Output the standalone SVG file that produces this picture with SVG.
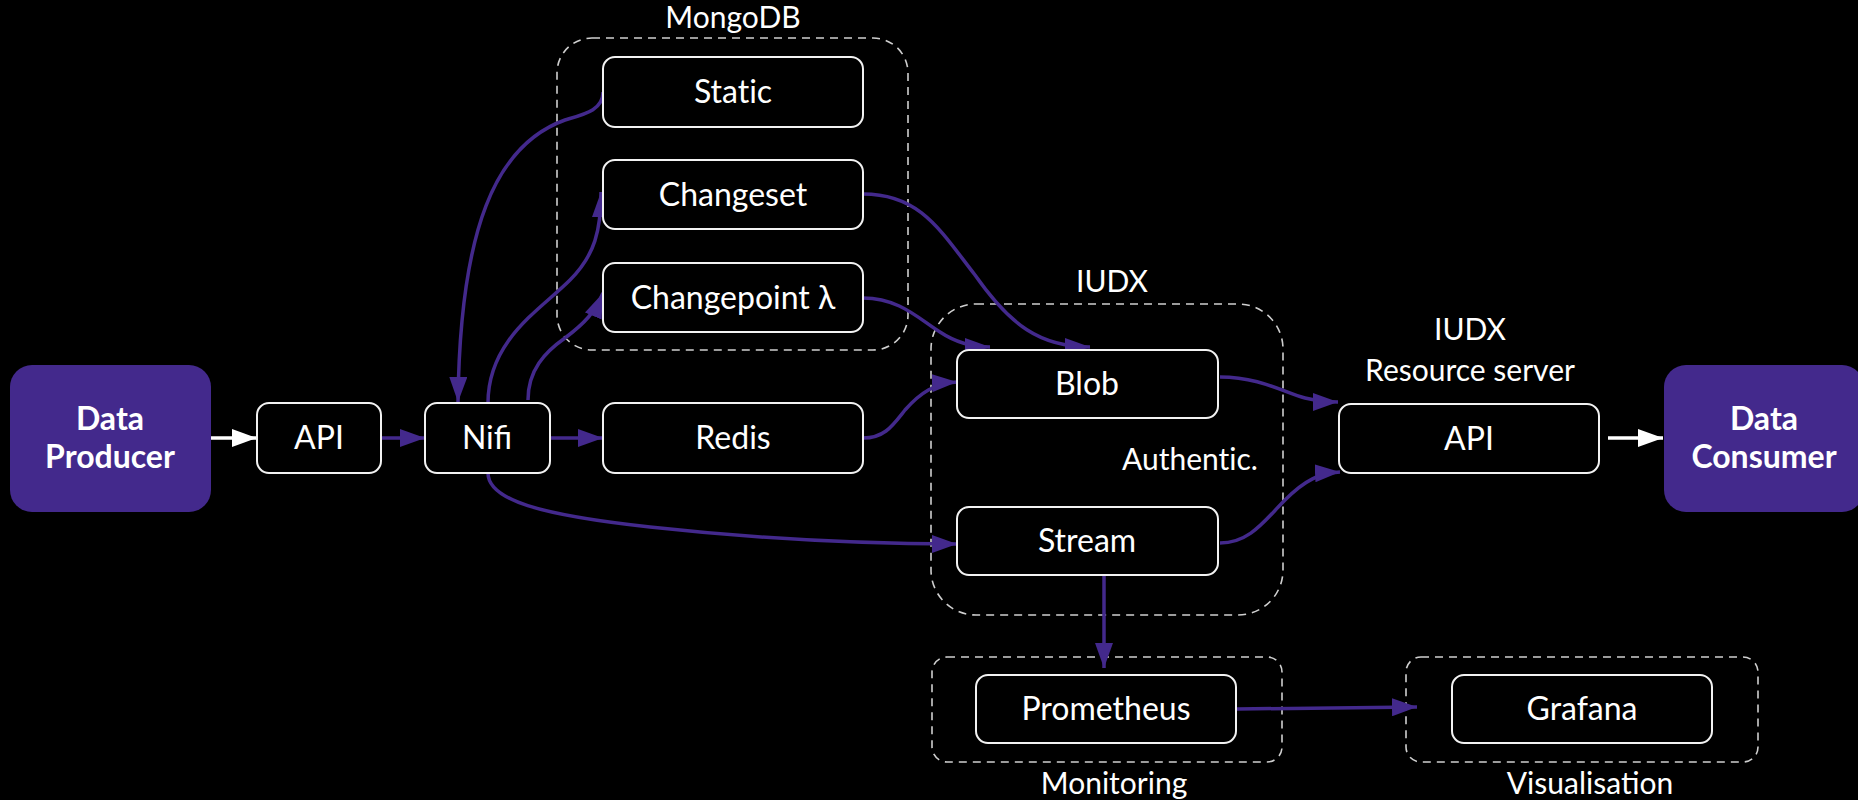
<svg xmlns="http://www.w3.org/2000/svg" width="1858" height="800" viewBox="0 0 1858 800">
<defs>
<style>
.bg{fill:#000}
.node{fill:#000;stroke:#f2f2f2;stroke-width:2}
.ext{fill:#43298c;stroke:none}
.grp{fill:none;stroke:#cfcfcf;stroke-width:1.6;stroke-dasharray:8 6}
.lbl{font-family:Lato,"Liberation Sans",sans-serif;font-size:32px;fill:#fff;text-anchor:middle}
.glbl{font-family:Lato,"Liberation Sans",sans-serif;font-size:30px;fill:#fff;text-anchor:middle}
.bold{font-family:Lato,"Liberation Sans",sans-serif;font-size:32px;font-weight:bold;fill:#fff;text-anchor:middle}
.nolig{font-variant-ligatures:none}
.edge{fill:none;stroke:#43298c;stroke-width:3.5}
.wedge{fill:none;stroke:#fff;stroke-width:3.5}
</style>
<marker id="ap" viewBox="0 0 25 18" refX="25" refY="9" markerWidth="25" markerHeight="18" markerUnits="userSpaceOnUse" orient="auto">
<path d="M0,0 L25,9 L0,18 Z" fill="#43298c"/>
</marker>
<marker id="aw" viewBox="0 0 25 18" refX="25" refY="9" markerWidth="25" markerHeight="18" markerUnits="userSpaceOnUse" orient="auto">
<path d="M0,0 L25,9 L0,18 Z" fill="#fff"/>
</marker>
</defs>
<rect class="bg" x="0" y="0" width="1858" height="800"/>

<g id="groups">
<g id="grp-mongodb">
<rect class="grp" x="557" y="38" width="351" height="312" rx="35"/>
<text class="glbl" x="733" y="28">MongoDB</text>
</g>
<g id="grp-iudx">
<rect class="grp" x="931" y="304" width="352" height="311" rx="45"/>
<text class="glbl" x="1112" y="292">IUDX</text>
<text class="glbl nolig" x="1190" y="470">Authentic.</text>
</g>
<g id="grp-monitoring">
<rect class="grp" x="932" y="657" width="350" height="105" rx="15"/>
<text class="glbl" x="1114" y="794">Monitoring</text>
</g>
<g id="grp-visualisation">
<rect class="grp" x="1406" y="657" width="352" height="105" rx="15"/>
<text class="glbl" x="1590" y="794">Visualisation</text>
</g>
<g id="lbl-resource">
<text class="glbl" x="1470" y="340">IUDX</text>
<text class="glbl" x="1470" y="381">Resource server</text>
</g>
</g>

<g id="connectors">
<path class="wedge" d="M211,438 L257,438" marker-end="url(#aw)"/>
<path class="edge" d="M381,438 L425,438" marker-end="url(#ap)"/>
<path class="edge" d="M550,438 L603,438" marker-end="url(#ap)"/>
<path class="edge" d="M603,92 C603,110 585,114 565,120 C495,145 460,230 458,402" marker-end="url(#ap)"/>
<path class="edge" d="M488,403 C488,340 540,310 570,280 C595,255 601,230 601,192" marker-end="url(#ap)"/>
<path class="edge" d="M528,400 C528,370 545,352 565,338 C585,323 595,312 603,293" marker-end="url(#ap)"/>
<path class="edge" d="M863,194 C920,194 940,230 975,275 C1010,325 1040,347 1090,347" marker-end="url(#ap)"/>
<path class="edge" d="M863,298 C900,298 920,320 940,332 C955,342 970,347 990,347" marker-end="url(#ap)"/>
<path class="edge" d="M863,438 C885,438 893,425 905,410 C920,393 935,383 957,382" marker-end="url(#ap)"/>
<path class="edge" d="M488,473 C488,500 540,515 650,527 C750,538 850,544 957,544" marker-end="url(#ap)"/>
<path class="edge" d="M1220,377 C1260,377 1285,393 1305,398 C1318,401 1325,402 1338,402" marker-end="url(#ap)"/>
<path class="edge" d="M1220,543 C1250,543 1265,520 1285,500 C1305,480 1320,473 1340,472" marker-end="url(#ap)"/>
<path class="edge" d="M1104,566 L1104,668" marker-end="url(#ap)"/>
<path class="edge" d="M1237,709 L1417,707" marker-end="url(#ap)"/>
<path class="wedge" d="M1608,438 L1663,438" marker-end="url(#aw)"/>
</g>

<g id="n-producer"><rect class="ext" x="10" y="365" width="201" height="147" rx="22"/><text class="bold" x="110" y="430">Data</text><text class="bold" x="110" y="468">Producer</text></g>
<g id="n-api"><rect class="node" x="257" y="403" width="124" height="70" rx="12"/><text class="lbl" x="319" y="449">API</text></g>
<g id="n-nifi"><rect class="node" x="425" y="403" width="125" height="70" rx="12"/><text class="lbl" x="487" y="449">Nifi</text></g>
<g id="n-redis"><rect class="node" x="603" y="403" width="260" height="70" rx="12"/><text class="lbl" x="733" y="449">Redis</text></g>
<g id="n-static"><rect class="node" x="603" y="57" width="260" height="70" rx="12"/><text class="lbl nolig" x="733" y="103">Static</text></g>
<g id="n-changeset"><rect class="node" x="603" y="160" width="260" height="69" rx="12"/><text class="lbl" x="733" y="206">Changeset</text></g>
<g id="n-changepoint"><rect class="node" x="603" y="263" width="260" height="69" rx="12"/><text class="lbl" x="733" y="309">Changepoint λ</text></g>
<g id="n-blob"><rect class="node" x="957" y="350" width="261" height="68" rx="12"/><text class="lbl" x="1087" y="395">Blob</text></g>
<g id="n-stream"><rect class="node" x="957" y="507" width="261" height="68" rx="12"/><text class="lbl" x="1087" y="552">Stream</text></g>
<g id="n-rsapi"><rect class="node" x="1339" y="404" width="260" height="69" rx="12"/><text class="lbl" x="1469" y="450">API</text></g>
<g id="n-consumer"><rect class="ext" x="1664" y="365" width="200" height="147" rx="22"/><text class="bold" x="1764" y="430">Data</text><text class="bold" x="1764" y="468">Consumer</text></g>
<g id="n-prometheus"><rect class="node" x="976" y="675" width="260" height="68" rx="12"/><text class="lbl" x="1106" y="720">Prometheus</text></g>
<g id="n-grafana"><rect class="node" x="1452" y="675" width="260" height="68" rx="12"/><text class="lbl" x="1582" y="720">Grafana</text></g>
</svg>
